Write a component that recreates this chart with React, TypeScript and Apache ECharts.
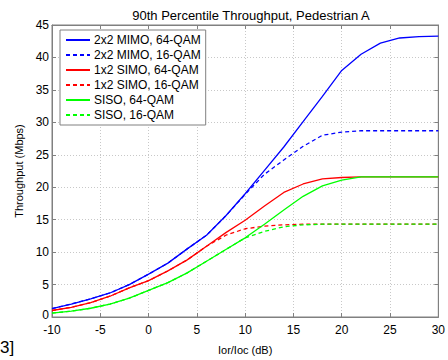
import React, { useEffect, useRef } from "react";
import * as echarts from "echarts";

const xValues = [-10, -8, -6, -4, -2, 0, 2, 4, 6, 8, 10, 12, 14, 16, 18, 20, 22, 24, 26, 28, 30];
const mimo64 = [1.3, 2.0, 2.8, 3.7, 5.0, 6.6, 8.3, 10.5, 12.6, 15.6, 19.0, 22.6, 26.2, 30.1, 34.0, 38.0, 40.5, 42.2, 43.0, 43.2, 43.3];
const mimo16 = [1.3, 2.0, 2.8, 3.7, 5.0, 6.6, 8.3, 10.5, 12.6, 15.6, 18.9, 22.0, 24.2, 26.3, 28.0, 28.5, 28.7, 28.7, 28.7, 28.7, 28.7];
const simo64 = [1.0, 1.5, 2.2, 3.2, 4.5, 5.6, 7.1, 8.8, 10.9, 13.0, 14.9, 17.1, 19.2, 20.5, 21.3, 21.5, 21.6, 21.6, 21.6, 21.6, 21.6];
const simo16 = [1.0, 1.5, 2.2, 3.2, 4.5, 5.6, 7.1, 8.8, 10.9, 12.6, 13.6, 14.0, 14.2, 14.3, 14.3, 14.3, 14.3, 14.3, 14.3, 14.3, 14.3];
const siso64 = [0.6, 0.9, 1.35, 2.0, 2.9, 4.1, 5.3, 6.8, 8.6, 10.4, 12.2, 14.3, 16.5, 18.6, 20.2, 21.1, 21.6, 21.6, 21.6, 21.6, 21.6];
const siso16 = [0.6, 0.9, 1.35, 2.0, 2.9, 4.1, 5.3, 6.8, 8.6, 10.4, 12.2, 13.2, 13.9, 14.2, 14.3, 14.3, 14.3, 14.3, 14.3, 14.3, 14.3];

const seriesNames = [
  "2x2 MIMO, 64-QAM",
  "2x2 MIMO, 16-QAM",
  "1x2 SIMO, 64-QAM",
  "1x2 SIMO, 16-QAM",
  "SISO, 64-QAM",
  "SISO, 16-QAM",
];
const seriesData = [mimo64, mimo16, simo64, simo16, siso64, siso16];
const seriesColors = ["#0000ff", "#0000ff", "#ff0000", "#ff0000", "#00ff00", "#00ff00"];
const seriesDash = ["solid", "dashed", "solid", "dashed", "solid", "dashed"];

const titleText = "90th Percentile Throughput, Pedestrian A";
const xName = "Ior/Ioc (dB)";
const yName = "Throughput (Mbps)";
const cornerText = "3]";

const FONT = "'Liberation Sans', Arial, sans-serif";

export default function App() {
  const ref = useRef<HTMLDivElement>(null);
  useEffect(() => {
    const chart = echarts.init(ref.current!, undefined, { renderer: "svg" });
    const axisCommon = {
      axisLine: { show: true, onZero: false, lineStyle: { color: "#808080", width: 1 } },
      axisTick: { show: true, inside: true, length: 4, lineStyle: { color: "#808080" } },
    };
    chart.setOption({
      animation: false,
      backgroundColor: "#ffffff",
      textStyle: { fontFamily: FONT },
      title: {
        text: titleText,
        left: 246,
        textAlign: "center",
        top: 4,
        textStyle: { fontSize: 13, fontWeight: "normal", color: "#000", fontFamily: FONT },
      },
      grid: { left: 52, right: 9, top: 25, bottom: 33, show: true, borderColor: "#808080", borderWidth: 1 },
      legend: {
        orient: "vertical",
        left: 60,
        top: 30,
        itemWidth: 24,
        itemHeight: 8,
        itemGap: 3,
        padding: [4, 5, 4, 5],
        borderColor: "#808080",
        borderWidth: 1,
        backgroundColor: "#ffffff",
        data: seriesNames,
        itemStyle: { opacity: 0 },
        textStyle: { fontSize: 12, color: "#000", fontFamily: FONT, padding: [0, 0, 0, -1] },
      },
      xAxis: [
        {
          type: "value",
          min: -10,
          max: 30,
          interval: 5,
          name: xName,
          nameLocation: "middle",
          nameGap: 27,
          nameTextStyle: { fontSize: 11, color: "#000", fontFamily: FONT },
          axisLabel: { fontSize: 12, lineHeight: 12, color: "#000", margin: 7, fontFamily: FONT },
          splitLine: { show: true, lineStyle: { color: "#c8c8c8", type: [1, 2] } },
          ...axisCommon,
        },
        {
          type: "value",
          position: "top",
          min: -10,
          max: 30,
          interval: 5,
          axisLabel: { show: false },
          splitLine: { show: false },
          ...axisCommon,
        },
      ],
      yAxis: [
        {
          type: "value",
          min: 0,
          max: 45,
          interval: 5,
          name: yName,
          nameLocation: "middle",
          nameGap: 13,
          nameTextStyle: { fontSize: 11, color: "#000", fontFamily: FONT },
          axisLabel: {
            fontSize: 12,
            lineHeight: 11,
            color: "#000",
            margin: 3,
            fontFamily: FONT,
            formatter: (v: number) => (v === 0 ? "{z|0}" : String(v)),
            rich: { z: { fontSize: 12, lineHeight: 11, padding: [0, 0, 5, 0], fontFamily: FONT, color: "#000" } },
          },
          splitLine: { show: true, lineStyle: { color: "#c8c8c8", type: [1, 2] } },
          ...axisCommon,
        },
        {
          type: "value",
          position: "right",
          min: 0,
          max: 45,
          interval: 5,
          axisLabel: { show: false },
          splitLine: { show: false },
          ...axisCommon,
        },
      ],
      graphic: [
        {
          type: "text",
          left: 0,
          top: 339,
          style: { text: cornerText, fontSize: 17, fill: "#000", fontFamily: FONT },
        },
      ],
      series: seriesNames.map((name, i) => ({
        name,
        type: "line",
        xAxisIndex: 0,
        yAxisIndex: 0,
        data: xValues.map((x, j) => [x, seriesData[i][j]]),
        showSymbol: false,
        symbol: "none",
        smooth: false,
        color: seriesColors[i],
        lineStyle: { color: seriesColors[i], width: 1.3, type: seriesDash[i] === "dashed" ? [4, 3] : "solid" },
      })),
    });
    return () => chart.dispose();
  }, []);
  return <div ref={ref} style={{ width: 448, height: 360, position: "absolute", left: 0, top: 0 }} />;
}
